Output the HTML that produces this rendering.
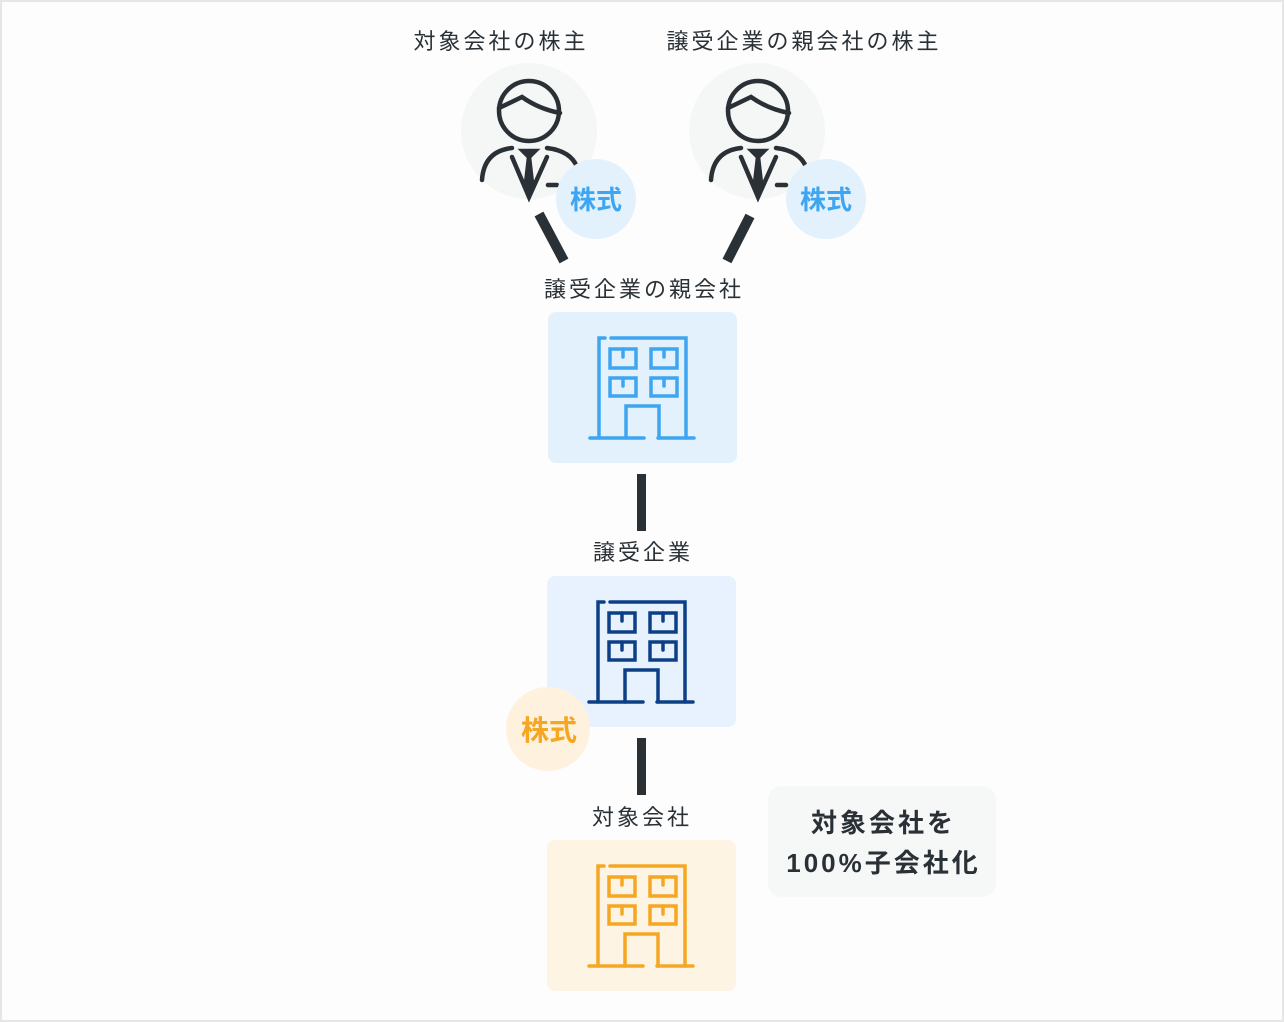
<!DOCTYPE html>
<html><head><meta charset="utf-8"><style>
html,body{margin:0;padding:0;}
body{width:1284px;height:1022px;position:relative;background:#fdfdfd;font-family:"Liberation Sans","Noto Sans CJK JP",sans-serif;color:#2a3136;overflow:hidden;}
.frame{position:absolute;left:0;top:0;width:1280px;height:1018px;border:2px solid #e6e6e6;}
.lbl{position:absolute;font-size:22px;letter-spacing:3px;white-space:nowrap;transform:translateX(-50%);line-height:1;}
.note{position:absolute;left:768px;top:786px;width:228px;height:111px;background:#f6f7f7;border-radius:14px;text-align:center;font-weight:bold;font-size:26px;letter-spacing:3px;line-height:40px;box-sizing:border-box;padding-top:17px;padding-left:3px;}
</style></head><body>
<div class="frame"></div>
<svg width="1284" height="1022" style="position:absolute;left:0;top:0">
<defs>
<g id="person" fill="none" stroke="#2a3136" stroke-width="4.5" stroke-linecap="round">
<circle cx="0" cy="0" r="30"/>
<path d="M-30,-3 L-7,-14 Q10,-2 31,2"/>
<path d="M-47,69 Q-45,40 -17,37"/>
<path d="M18,37 Q42,40 48,56"/>
<path d="M-17,46 L0,86 L18,46"/>
<path d="M19,74 L28,74"/>
<path d="M-6,40 L6,40 L0,46 Z" fill="#2a3136"/>
<path d="M0,46 L-3,72 L0,80 L3,72 Z" fill="#2a3136"/>
</g>
<g id="bld" fill="none" stroke-width="3.5" stroke-linecap="round">
<path d="M57,26 L51,26 L51,126"/>
<path d="M63,26 L138,26 L138,126"/>
<rect x="62" y="37" width="26" height="19"/>
<rect x="103" y="37" width="26" height="19"/>
<rect x="62" y="66" width="26" height="18"/>
<rect x="103" y="66" width="26" height="18"/>
<path d="M75,37 V45 M116,37 V45 M75,66 V74 M116,66 V74"/>
<path d="M78,126 V94 H111 V126"/>
<path d="M42,126 H96 M110,126 H146"/>
</g>
</defs>
<circle cx="529" cy="131" r="68" fill="#f5f6f6"/>
<circle cx="757" cy="131" r="68" fill="#f5f6f6"/>
<use href="#person" x="529" y="111"/>
<use href="#person" x="758" y="111"/>
<circle cx="596" cy="199" r="40" fill="#e3f1fd"/>
<circle cx="826" cy="199" r="40" fill="#e3f1fd"/>
<text x="596" y="209" font-size="26" font-weight="bold" fill="#3ea5f0" text-anchor="middle" font-family="Liberation Sans, Noto Sans CJK JP, sans-serif">株式</text>
<text x="826" y="209" font-size="26" font-weight="bold" fill="#3ea5f0" text-anchor="middle" font-family="Liberation Sans, Noto Sans CJK JP, sans-serif">株式</text>
<line x1="539" y1="214" x2="564" y2="261" stroke="#2a3136" stroke-width="10"/>
<line x1="750" y1="216" x2="727" y2="261" stroke="#2a3136" stroke-width="10"/>
<rect x="637" y="474" width="9" height="57" fill="#2a3136"/>
<rect x="637" y="738" width="9" height="57" fill="#2a3136"/>
<rect x="548" y="312" width="189" height="151" rx="8" fill="#e3f1fd"/>
<use href="#bld" x="548" y="312" stroke="#3ea5f0"/>
<rect x="547" y="576" width="189" height="151" rx="8" fill="#e8f2fe"/>
<use href="#bld" x="547" y="576" stroke="#0d3f87"/>
<rect x="547" y="840" width="189" height="151" rx="8" fill="#fef4e4"/>
<use href="#bld" x="547" y="840" stroke="#f5a623"/>
<circle cx="548" cy="729" r="42" fill="#fef2df"/>
<text x="549" y="740" font-size="28" font-weight="bold" fill="#f5a623" text-anchor="middle" font-family="Liberation Sans, Noto Sans CJK JP, sans-serif">株式</text>
</svg>
<div class="lbl" style="left:501px;top:31px">対象会社の株主</div>
<div class="lbl" style="left:804px;top:31px">譲受企業の親会社の株主</div>
<div class="lbl" style="left:644px;top:279px">譲受企業の親会社</div>
<div class="lbl" style="left:643px;top:542px">譲受企業</div>
<div class="lbl" style="left:642px;top:807px">対象会社</div>
<div class="note">対象会社を<br>100%子会社化</div>
</body></html>
